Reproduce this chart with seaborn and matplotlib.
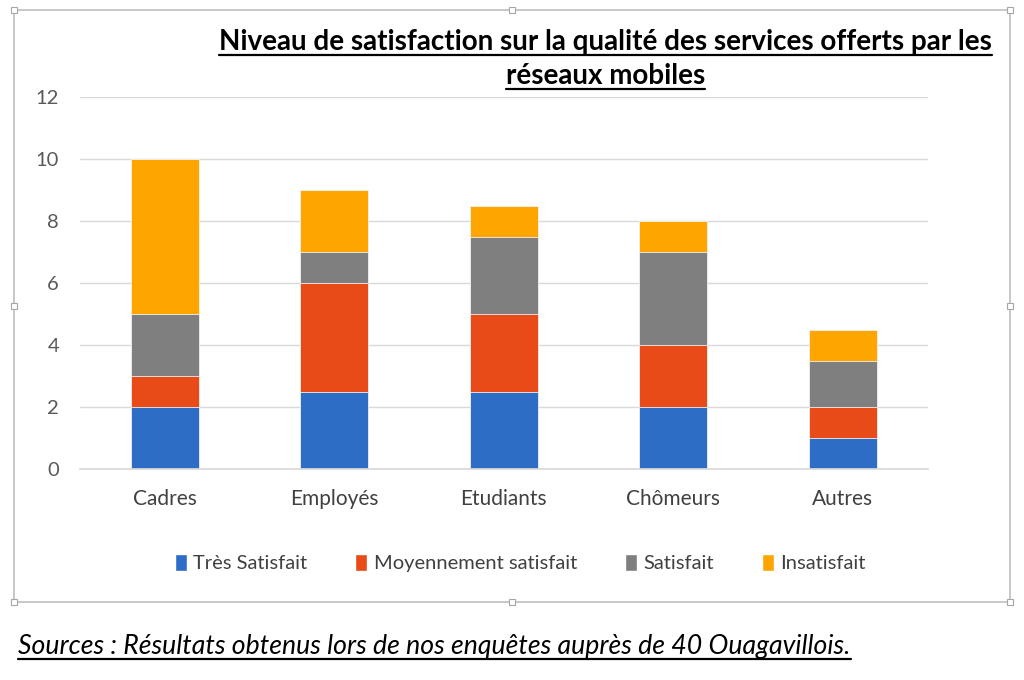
import matplotlib
matplotlib.use("Agg")
import matplotlib.pyplot as plt
import numpy as np
import pandas as pd
import seaborn as sns
from matplotlib.patches import Patch, Rectangle
from matplotlib.lines import Line2D

categories = ["Cadres", "Employés", "Etudiants", "Chômeurs", "Autres"]
series = ["Très Satisfait", "Moyennement satisfait", "Satisfait", "Insatisfait"]
tres_satisfait = [2, 2.5, 2.5, 2, 1]
moyennement = [1, 3.5, 2.5, 2, 1]
satisfait = [2, 1, 2.5, 3, 1.5]
insatisfait = [5, 2, 1, 1, 1]
colors = ["#2E6DC6", "#E84A18", "#7F7F7F", "#FFA500"]
yticks = [0, 2, 4, 6, 8, 10, 12]

title_lines = ["Niveau de satisfaction sur la qualité des services offerts par les",
               "réseaux mobiles"]
source = "Sources : Résultats obtenus lors de nos enquêtes auprès de 40 Ouagavillois."
title_size = 20

sns.set_theme(style="white")
plt.rcParams["font.family"] = ["Lato", "DejaVu Sans"]

values = np.array([tres_satisfait, moyennement, satisfait, insatisfait])
cum = values.cumsum(axis=0)

fig = plt.figure(figsize=(10.24, 6.8), dpi=100)
ax = fig.add_axes([0.078, 0.310, 0.828, 0.547])

# draw stacked bars from the top layer down
for i in reversed(range(len(series))):
    df = pd.DataFrame({"cat": categories, "val": cum[i]})
    sns.barplot(data=df, x="cat", y="val", color=colors[i], width=0.4,
                saturation=1, ax=ax, zorder=2, edgecolor="#F2F2F2", linewidth=0.6)

ax.set_ylim(0, 12)
ax.set_yticks(yticks)
ax.set_xlim(-0.5, 4.5)
ax.set_xlabel("")
ax.set_ylabel("")
ax.grid(axis="y", color="#D9D9D9", linewidth=1, zorder=0)
ax.set_axisbelow(True)
for s in ["top", "right", "left"]:
    ax.spines[s].set_visible(False)
ax.spines["bottom"].set_color("#D9D9D9")
ax.tick_params(axis="y", colors="#595959", labelsize=14.5, length=0, pad=15)
ax.tick_params(axis="x", colors="#404040", labelsize=15, length=0, pad=14)

handles = [Patch(facecolor=c, label=s) for c, s in zip(colors, series)]
fig.legend(handles=handles, loc="center", bbox_to_anchor=(0.508, 0.172), ncol=4,
           frameon=False, fontsize=14.5, handlelength=0.6, handleheight=0.9,
           handletextpad=0.3, columnspacing=2.4, labelcolor="#404040")

# chart frame with handles
fig.patches.append(Rectangle((0.014, 0.115), 0.972, 0.87, transform=fig.transFigure,
                             fill=False, edgecolor="#BFBFBF", linewidth=1.2))
for hx in [0.014, 0.5, 0.986]:
    for hy in [0.115, 0.55, 0.985]:
        if hx == 0.5 and hy == 0.55:
            continue
        fig.patches.append(Rectangle((hx - 0.003, hy - 0.0045), 0.006, 0.009,
                                     transform=fig.transFigure, facecolor="white",
                                     edgecolor="#A6A6A6", linewidth=0.8))


def underlined(x, y_px, text, ha, **kw):
    # y_px: baseline position in pixels from the top of the picture
    y = 1 - y_px / 680
    t = fig.text(x, y, text, ha=ha, va="baseline", color="black", **kw)
    fig.canvas.draw()
    bb = t.get_window_extent(fig.canvas.get_renderer())
    x0, x1 = bb.x0 / 1024, bb.x1 / 1024
    yl = 1 - (y_px + 5) / 680
    fig.add_artist(Line2D([x0, x1], [yl, yl], color="black",
                          linewidth=kw.pop("ul", 1.6), transform=fig.transFigure))
    return t


underlined(0.591, 50, title_lines[0], "center", fontsize=title_size, fontweight="bold")
underlined(0.591, 84, title_lines[1], "center", fontsize=title_size, fontweight="bold")
underlined(0.018, 654, source, "left", fontsize=19.2, fontstyle="italic")

fig.savefig("out.png", dpi=100)
plt.close("all")
